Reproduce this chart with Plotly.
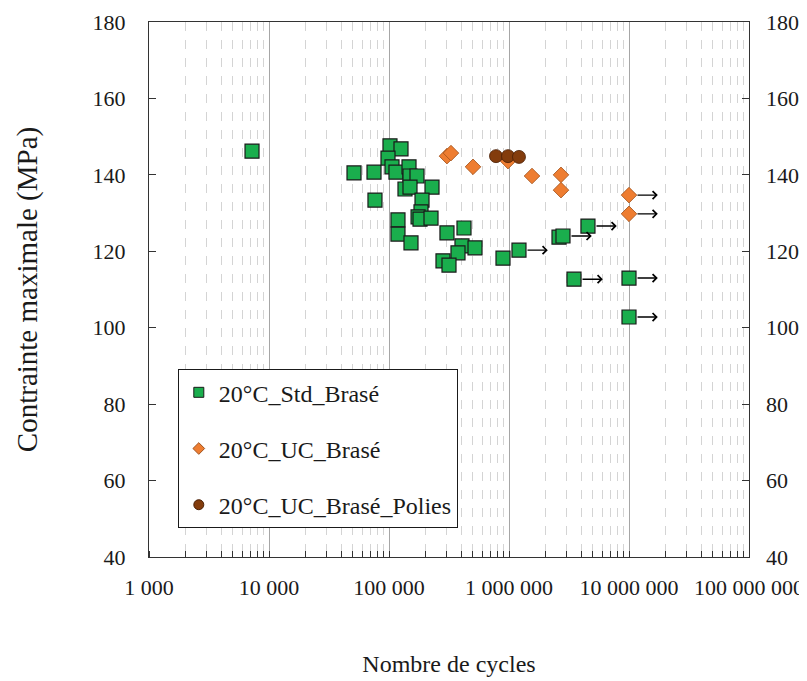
import math
import plotly.graph_objects as go

# ---- data ----
std_cycles = [7220, 51100, 75000, 76400, 101900, 125900, 98100, 105900, 114300,
              146800, 149600, 171100, 135900, 149600, 228200, 188400, 184800,
              174600, 181300, 223900, 118800, 118800, 152500, 304100, 421700,
              405700, 520900, 375800, 281800, 316200, 891300, 1211000, 2610000,
              2818000, 4550000, 3480000, 10000000, 10000000]
std_stress = [146.2, 140.5, 140.7, 133.4, 147.6, 146.8, 144.4, 142.1, 140.7,
              142.1, 139.7, 139.7, 136.3, 136.8, 136.8, 133.4, 130.3,
              129.0, 128.4, 128.7, 128.2, 124.5, 122.2, 124.8, 126.1,
              121.4, 120.9, 119.6, 117.5, 116.4, 118.2, 120.3, 123.7,
              124.0, 126.6, 112.7, 113.0, 102.8]
std_runout = [False] * 31 + [True, False, True, True, True, True, True]

uc_cycles = [304100, 328500, 501200, 981000, 1555000, 2712000, 2712000, 10000000, 10000000]
uc_stress = [144.9, 145.7, 142.1, 143.6, 139.7, 140.0, 136.0, 134.7, 129.8]
uc_runout = [False, False, False, False, False, False, False, True, True]

pol_cycles = [779600, 981000, 1211000]
pol_stress = [144.9, 144.9, 144.7]

x_tickvals = [1e3, 1e4, 1e5, 1e6, 1e7, 1e8]
x_ticktext = ["1 000", "10 000", "100 000", "1 000 000", "10 000 000", "100 000 000"]
y_tickvals = [40, 60, 80, 100, 120, 140, 160, 180]

names = ["20°C_Std_Brasé", "20°C_UC_Brasé", "20°C_UC_Brasé_Polies"]

# ---- style ----
FONT = "Liberation Serif"
GREEN = "#1aae4d"
ORANGE = "#ee7d31"
BROWN = "#833c0c"
ARROW_DEC = 0.24  # arrow length in decades

fig = go.Figure()

fig.add_trace(go.Scatter(x=uc_cycles, y=uc_stress, mode="markers", showlegend=False,
                         marker=dict(symbol="diamond", size=12, color=ORANGE,
                                     line=dict(color="#a0501a", width=0.8))))
fig.add_trace(go.Scatter(x=std_cycles, y=std_stress, mode="markers", showlegend=False,
                         marker=dict(symbol="square", size=14, color=GREEN,
                                     line=dict(color="#1a1a1a", width=1.2))))
fig.add_trace(go.Scatter(x=pol_cycles, y=pol_stress, mode="markers", showlegend=False,
                         marker=dict(symbol="circle", size=13, color=BROWN,
                                     line=dict(color="#4a2006", width=0.8))))

# legend-only entries (smaller symbols)
leg_specs = [("square", 10, GREEN, "#1a1a1a"),
             ("diamond", 9, ORANGE, "#a0501a"),
             ("circle", 10, BROWN, "#4a2006")]
for i, (nm, (sym, sz, col, lc)) in enumerate(zip(names, leg_specs)):
    fig.add_trace(go.Scatter(x=[None], y=[None], mode="markers", name=nm,
                             legendgroup=str(i),
                             marker=dict(symbol=sym, size=sz, color=col,
                                         line=dict(color=lc, width=1))))

# dummy trace for right axis
fig.add_trace(go.Scatter(x=[None], y=[None], yaxis="y2", showlegend=False, hoverinfo="skip"))

# run-out arrows
for xs, ys, rs in [(std_cycles, std_stress, std_runout), (uc_cycles, uc_stress, uc_runout)]:
    for xv, yv, r in zip(xs, ys, rs):
        if r:
            lx = math.log10(xv)
            fig.add_annotation(x=lx + ARROW_DEC, y=yv, ax=lx, ay=yv,
                               xref="x", yref="y", axref="x", ayref="y",
                               showarrow=True, arrowhead=4, arrowsize=1.1,
                               arrowwidth=1.4, arrowcolor="black", text="",
                               standoff=0, startstandoff=7)

axis_font = dict(family=FONT, size=22, color="#1a1a1a")

# page body has an 8 px margin: figure is 799x673 so it fits the 807x681 window
fig.update_layout(
    width=799, height=673,
    margin=dict(l=141, r=58, t=14, b=124, autoexpand=False),
    paper_bgcolor="white", plot_bgcolor="white",
    font=dict(family=FONT, size=22, color="#1a1a1a"),
    xaxis=dict(type="log", range=[3, 8], tickvals=x_tickvals, ticktext=x_ticktext,
               tickfont=axis_font, ticks="", ticklabelstandoff=10, automargin=False,
               showline=True, linecolor="#333", linewidth=1.2, mirror=True,
               showgrid=True, gridcolor="#a6a6a6", gridwidth=1.2,
               minor=dict(dtick="D1", ticks="inside", ticklen=6, tickcolor="#333", tickwidth=1,
                          showgrid=True, gridcolor="#d4d4d4", griddash="dash", gridwidth=1),
               title=dict(text="Nombre de cycles",
                          font=dict(family=FONT, size=24, color="#1a1a1a"), standoff=56),
               zeroline=False),
    yaxis=dict(range=[40, 180], tickvals=y_tickvals, tickfont=axis_font, automargin=False,
               ticks="inside", ticklen=7, tickcolor="#333",
               showline=True, linecolor="#333", linewidth=1.2, mirror=True,
               showgrid=False, zeroline=False, ticklabelstandoff=18,
               title=dict(text="Contrainte maximale (MPa)",
                          font=dict(family=FONT, size=29, color="#1a1a1a"), standoff=46)),
    yaxis2=dict(range=[40, 180], tickvals=y_tickvals, tickfont=axis_font, automargin=False,
                overlaying="y", side="right", ticks="inside", ticklen=7, tickcolor="#333",
                showgrid=False, zeroline=False, showline=False, ticklabelstandoff=16),
    legend=dict(x=0.048, y=0.351, xanchor="left", yanchor="top",
                bgcolor="white", bordercolor="#1a1a1a", borderwidth=1,
                font=dict(family=FONT, size=24, color="#1a1a1a"),
                tracegroupgap=22, itemsizing="trace", itemwidth=30),
)

fig.write_html("out.html")
